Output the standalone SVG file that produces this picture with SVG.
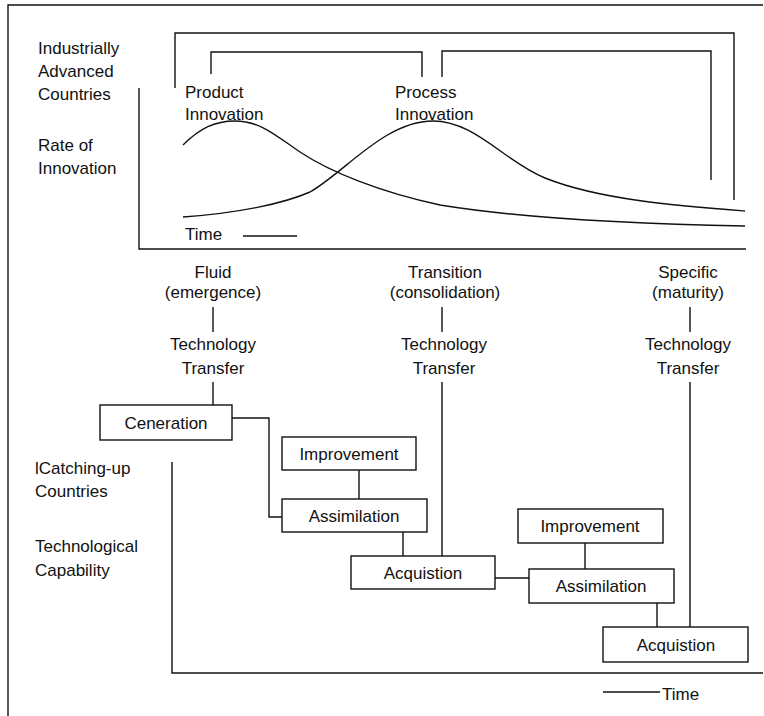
<svg xmlns="http://www.w3.org/2000/svg" width="764" height="716" viewBox="0 0 764 716">
<style>
text{font-family:"Liberation Sans",Arial,sans-serif;font-size:17px;fill:#111}
.c{text-anchor:middle}
.ln{fill:none;stroke:#111;stroke-width:1.4}
.box{fill:#fff;stroke:#111;stroke-width:1.4}
</style>
<rect width="764" height="716" fill="#fff"/>
<g id="frame" class="ln"><path d="M8,716 V5 H763"/></g>
<g id="labels">
<text x="38" y="54">Industrially</text>
<text x="38" y="77">Advanced</text>
<text x="38" y="100">Countries</text>
<text x="38" y="151">Rate of</text>
<text x="38" y="174">Innovation</text>
<text x="35" y="474">lCatching-up</text>
<text x="35" y="497">Countries</text>
<text x="35" y="552">Technological</text>
<text x="35" y="576">Capability</text>
</g>
<g id="chart-top">
<path class="ln" d="M139,88 V249 H746"/>
<path class="ln" d="M183,145 C200,128 215,121 235,121 C260,121 275,135 300,152 C330,172 380,192 440,205 C520,218 640,224 745,226"/>
<path class="ln" d="M183,217 C240,213 285,203 310,192 C345,172 385,121 433,121 C475,121 505,162 545,178 C600,200 680,206 745,211"/>
<text x="185" y="98">Product</text>
<text x="185" y="120">Innovation</text>
<text x="395" y="98">Process</text>
<text x="395" y="120">Innovation</text>
<text x="185" y="240">Time</text>
<path class="ln" d="M243,236 H297"/>
</g>
<g id="brackets" class="ln">
<path d="M175,88 V33 H734 V200"/>
<path d="M211,74 V52 H422 V77"/>
<path d="M442,77 V51 H711 V180"/>
</g>
<g id="stage-fluid">
<text class="c" x="213" y="278">Fluid</text>
<text class="c" x="213" y="298">(emergence)</text>
<text class="c" x="213" y="350">Technology</text>
<text class="c" x="213" y="374">Transfer</text>
</g>
<g id="stage-transition">
<text class="c" x="445" y="278">Transition</text>
<text class="c" x="445" y="298">(consolidation)</text>
<text class="c" x="444" y="350">Technology</text>
<text class="c" x="444" y="374">Transfer</text>
</g>
<g id="stage-specific">
<text class="c" x="688" y="278">Specific</text>
<text class="c" x="688" y="298">(maturity)</text>
<text class="c" x="688" y="350">Technology</text>
<text class="c" x="688" y="374">Transfer</text>
</g>
<g id="chart-bottom">
<path class="ln" d="M172,462 V673 H763"/>
<path class="ln" d="M603,692 H660"/>
<text x="662" y="700">Time</text>
</g>
<g id="connectors" class="ln">
<path d="M213,307 V332"/>
<path d="M213,382 V405"/>
<path d="M232,418 H269 V517 H282"/>
<path d="M359,470 V499"/>
<path d="M403,532 V556"/>
<path d="M442,307 V332"/>
<path d="M442,382 V556"/>
<path d="M495,578 H529"/>
<path d="M585,543 V569"/>
<path d="M657,603 V627"/>
<path d="M690,307 V332"/>
<path d="M690,382 V627"/>
</g>
<g id="generation"><rect class="box" x="100" y="405" width="132" height="35"/><text class="c" x="166" y="429">Ceneration</text></g>
<g id="improvement-1"><rect class="box" x="282" y="437" width="134" height="33"/><text class="c" x="349" y="460">Improvement</text></g>
<g id="assimilation-1"><rect class="box" x="282" y="499" width="145" height="33"/><text class="c" x="354" y="522">Assimilation</text></g>
<g id="acquisition-1"><rect class="box" x="351" y="556" width="144" height="33"/><text class="c" x="423" y="579">Acquistion</text></g>
<g id="improvement-2"><rect class="box" x="518" y="509" width="145" height="34"/><text class="c" x="590" y="532">Improvement</text></g>
<g id="assimilation-2"><rect class="box" x="529" y="569" width="145" height="34"/><text class="c" x="601" y="592">Assimilation</text></g>
<g id="acquisition-2"><rect class="box" x="603" y="627" width="145" height="35"/><text class="c" x="676" y="651">Acquistion</text></g>
</svg>
